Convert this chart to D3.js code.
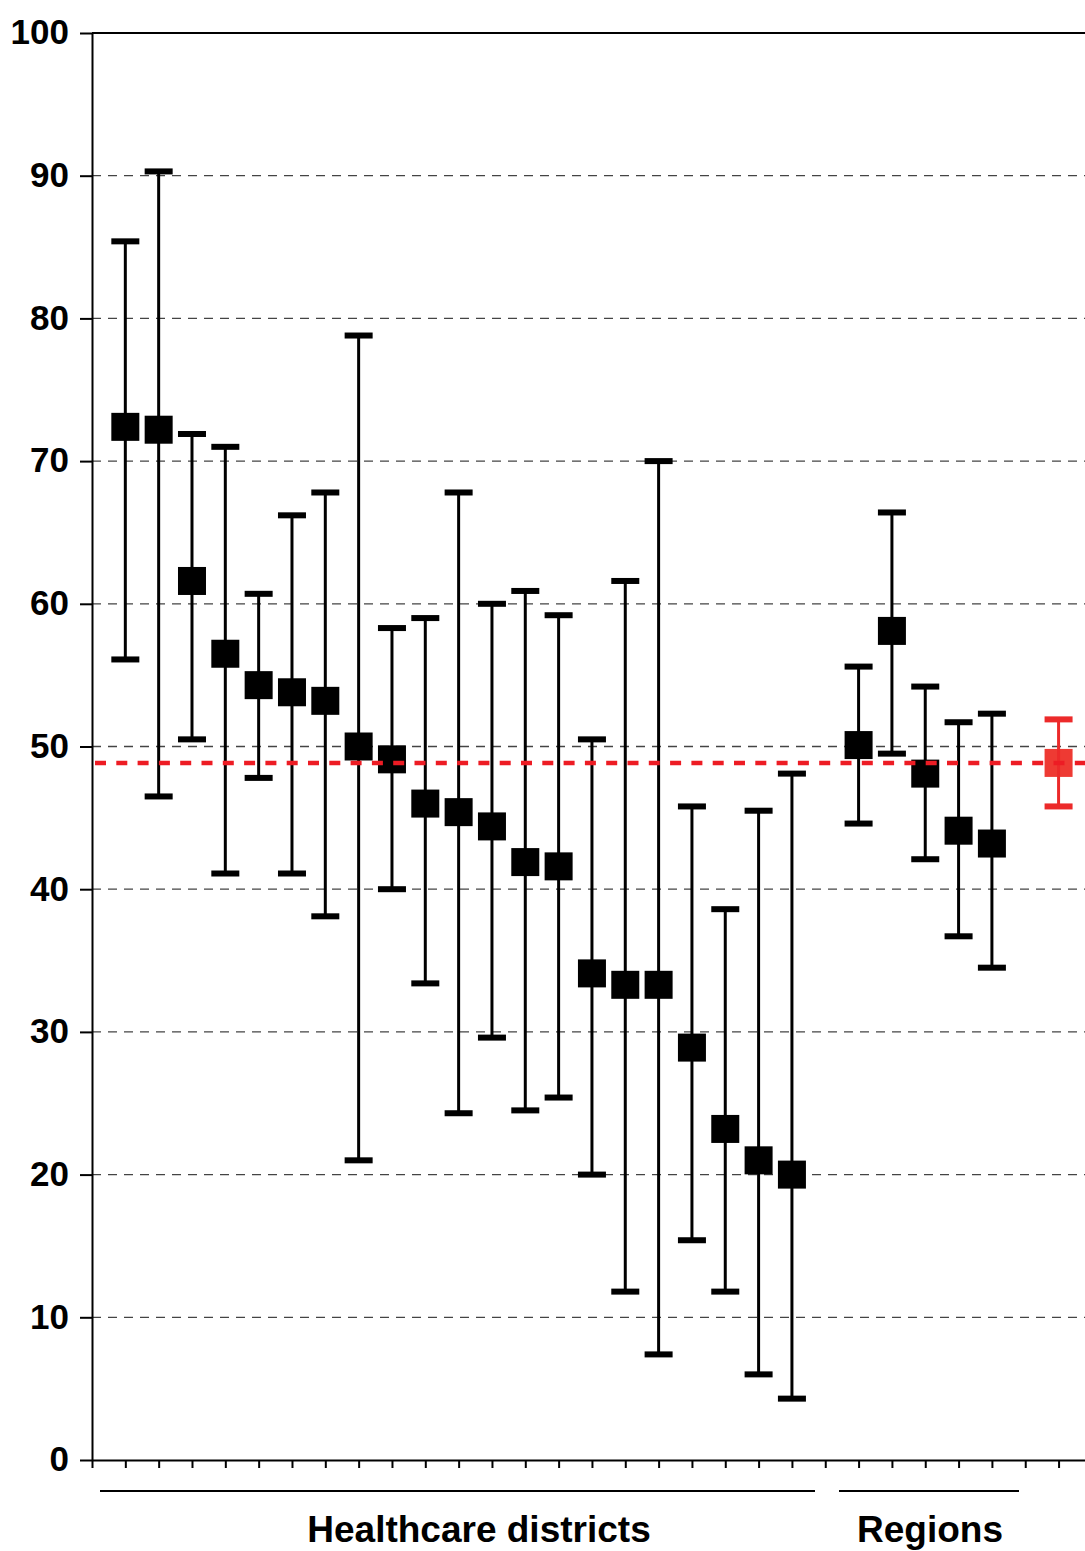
<!DOCTYPE html>
<html>
<head>
<meta charset="utf-8">
<script src="https://cdn.jsdelivr.net/npm/d3@7"></script>
<style>
  html, body { margin: 0; padding: 0; background: #fff; }
  svg { display: block; font-family: "Liberation Sans", Arial, sans-serif; }
</style>
</head>
<body>
<svg id="chart" width="1085" height="1551"></svg>
<script>
// Estimates with 95% confidence intervals, percent
const districtMeans = [72.4, 72.2, 61.6, 56.5, 54.3, 53.8, 53.2, 50.0, 49.1, 46.0, 45.4, 44.4, 41.9, 41.6, 34.1, 33.3, 33.3, 28.9, 23.2, 21.0, 20.0];
const districtUpper = [85.4, 90.3, 71.9, 71.0, 60.7, 66.2, 67.8, 78.8, 58.3, 59.0, 67.8, 60.0, 60.9, 59.2, 50.5, 61.6, 70.0, 45.8, 38.6, 45.5, 48.1];
const districtLower = [56.1, 46.5, 50.5, 41.1, 47.8, 41.1, 38.1, 21.0, 40.0, 33.4, 24.3, 29.6, 24.5, 25.4, 20.0, 11.8, 7.4, 15.4, 11.8, 6.0, 4.3];

const regionMeans = [50.1, 58.1, 48.1, 44.1, 43.2];
const regionUpper = [55.6, 66.4, 54.2, 51.7, 52.3];
const regionLower = [44.6, 49.5, 42.1, 36.7, 34.5];

const overallMean = [48.85];
const overallUpper = [51.9];
const overallLower = [45.8];

const groupLabels = ["Healthcare districts", "Regions"];
const yTicks = [0, 10, 20, 30, 40, 50, 60, 70, 80, 90, 100];

// ---- layout ----
const svg = d3.select("#chart");
const chartW = 1085;
const plotLeft = 92, plotTop = 33, plotBottom = 1460;
const slot = 33.33;

const y = d3.scaleLinear().domain([0, 100]).range([plotBottom, plotTop]);
const x = d3.scaleLinear().domain([0, 30]).range([plotLeft, plotLeft + 30 * slot]);

// positions on the category axis: districts, gap, regions, gap, overall
const districtPos = districtMeans.map((_, i) => i + 1);
const regionPos = regionMeans.map((_, i) => districtMeans.length + 2 + i);
const overallPos = [regionPos[regionPos.length - 1] + 2];

const rows = [
  ...districtMeans.map((m, i) => ({ pos: districtPos[i], mean: m, lo: districtLower[i], hi: districtUpper[i], color: "#000" })),
  ...regionMeans.map((m, i) => ({ pos: regionPos[i], mean: m, lo: regionLower[i], hi: regionUpper[i], color: "#000" })),
  { pos: overallPos[0], mean: overallMean[0], lo: overallLower[0], hi: overallUpper[0], color: "#ee3a33", lineColor: "#ec2a2a" }
];

// gridlines
svg.append("g")
  .selectAll("line")
  .data(yTicks.filter(t => t > 0 && t < 100))
  .join("line")
  .attr("x1", plotLeft).attr("x2", chartW)
  .attr("y1", d => y(d)).attr("y2", d => y(d))
  .attr("stroke", "#444")
  .attr("stroke-width", 1.3)
  .attr("stroke-dasharray", "9,7");

// frame top line
svg.append("line")
  .attr("x1", plotLeft).attr("x2", chartW)
  .attr("y1", y(100)).attr("y2", y(100))
  .attr("stroke", "#000").attr("stroke-width", 2);

// y axis
const yAxis = svg.append("g")
  .attr("transform", `translate(${plotLeft},0)`)
  .call(d3.axisLeft(y).tickValues(yTicks).tickSize(12).tickSizeOuter(0).tickPadding(11));
yAxis.select(".domain").attr("stroke", "#000").attr("stroke-width", 2);
yAxis.selectAll(".tick line").attr("stroke", "#000").attr("stroke-width", 2);
yAxis.selectAll(".tick text")
  .attr("font-family", "'Liberation Sans', Arial, sans-serif")
  .attr("font-size", 35)
  .attr("font-weight", "bold")
  .attr("fill", "#000")
  .attr("dy", "0.31em");

// x axis
const xAxis = svg.append("g")
  .attr("transform", `translate(0,${plotBottom})`)
  .call(d3.axisBottom(x).tickValues(d3.range(0, 30)).tickSize(8).tickSizeOuter(0).tickFormat(""));
xAxis.select(".domain").attr("stroke", "#000").attr("stroke-width", 2);
xAxis.selectAll(".tick line").attr("stroke", "#000").attr("stroke-width", 2);

// error bars and markers
const capW = 28, capH = 6, sq = 28;
const marks = svg.append("g");
const g = marks.selectAll("g").data(rows).join("g");
g.append("line")
  .attr("x1", d => x(d.pos)).attr("x2", d => x(d.pos))
  .attr("y1", d => y(d.hi)).attr("y2", d => y(d.lo))
  .attr("stroke", d => d.lineColor || d.color)
  .attr("stroke-width", 3);
g.append("rect")
  .attr("x", d => x(d.pos) - capW / 2).attr("width", capW)
  .attr("y", d => y(d.hi) - capH / 2).attr("height", capH)
  .attr("fill", d => d.lineColor || d.color);
g.append("rect")
  .attr("x", d => x(d.pos) - capW / 2).attr("width", capW)
  .attr("y", d => y(d.lo) - capH / 2).attr("height", capH)
  .attr("fill", d => d.lineColor || d.color);
g.append("rect")
  .attr("x", d => x(d.pos) - sq / 2).attr("width", sq)
  .attr("y", d => y(d.mean) - sq / 2).attr("height", sq)
  .attr("fill", d => d.color);
// the overall estimate's interval line shows over its marker
g.filter(d => d.lineColor)
  .append("line")
  .attr("x1", d => x(d.pos)).attr("x2", d => x(d.pos))
  .attr("y1", d => y(d.mean) - sq / 2).attr("y2", d => y(d.mean) + sq / 2)
  .attr("stroke", d => d.lineColor)
  .attr("stroke-width", 3);

// overall reference line
svg.append("line")
  .attr("x1", plotLeft + 3).attr("x2", chartW)
  .attr("y1", y(overallMean[0])).attr("y2", y(overallMean[0]))
  .attr("stroke", "#ed1c24")
  .attr("stroke-width", 4.5)
  .attr("stroke-dasharray", "11,10.3");

// group brackets and labels
const groups = [
  { label: groupLabels[0], x1: 100, x2: 815, tx: 479 },
  { label: groupLabels[1], x1: 839, x2: 1019, tx: 930 }
];
svg.append("g").selectAll("line").data(groups).join("line")
  .attr("x1", d => d.x1).attr("x2", d => d.x2)
  .attr("y1", 1491).attr("y2", 1491)
  .attr("stroke", "#000").attr("stroke-width", 2);
svg.append("g").selectAll("text").data(groups).join("text")
  .attr("x", d => d.tx).attr("y", 1542)
  .attr("text-anchor", "middle")
  .attr("font-size", 37)
  .attr("font-weight", "bold")
  .attr("fill", "#000")
  .text(d => d.label);
</script>
</body>
</html>
